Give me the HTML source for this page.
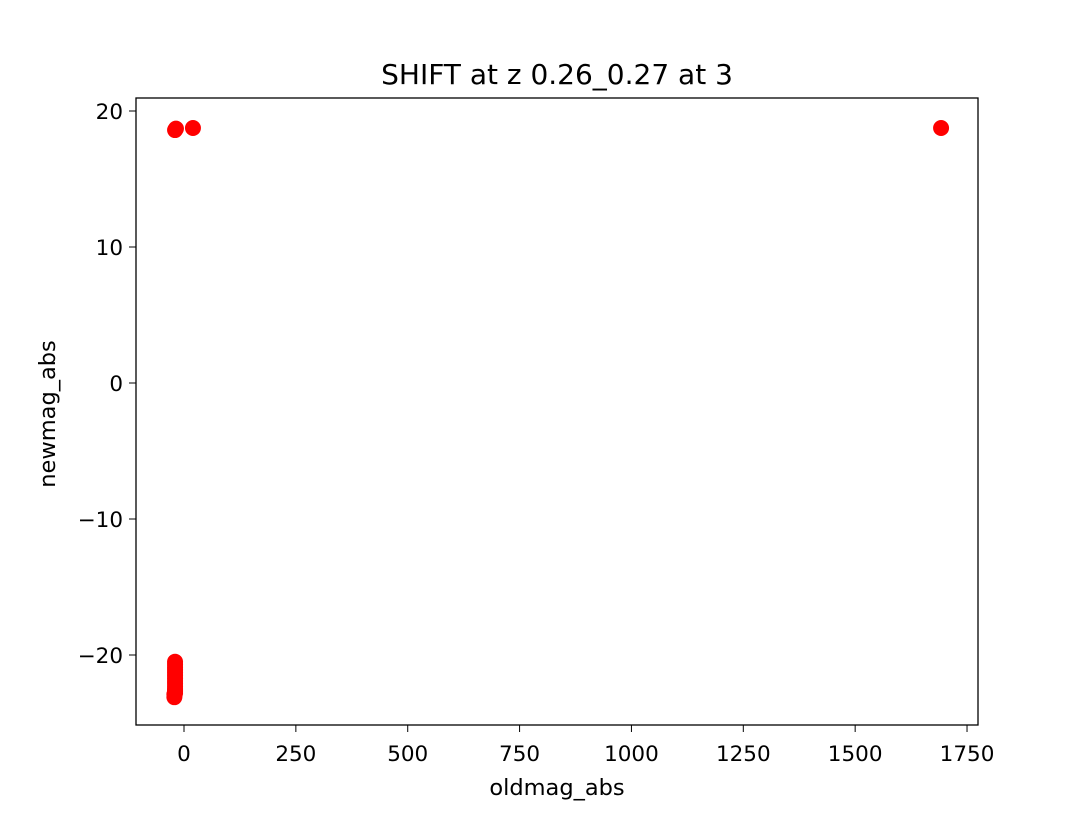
<!DOCTYPE html>
<html><head><meta charset="utf-8"><style>
body{margin:0;background:#fff}
svg text{font-family:"DejaVu Sans","Liberation Sans",sans-serif;fill:#000}
</style></head><body>
<svg id="chart" width="1088" height="816">
<rect width="1088" height="816" fill="#fff"/>
<text x="557" y="84" font-size="28" text-anchor="middle">SHIFT at z 0.26_0.27 at 3</text>
<g id="marks"></g>
<rect x="136" y="98" width="842" height="627" fill="none" stroke="#000" stroke-width="1.3"/>
<g id="xt"></g>
<g id="yt"></g>
<text x="557" y="795" font-size="22.5" text-anchor="middle">oldmag_abs</text>
<text x="55" y="414" font-size="22.5" text-anchor="middle" transform="rotate(-90 55 414)">newmag_abs</text>
</svg>
<script>
const xTicks=[0,250,500,750,1000,1250,1500,1750];
const yTicks=[-20,-10,0,10,20];
const xVals=[-18,-20,20,1692,-20,-20,-20,-20,-20,-20,-20,-20,-20,-20,-20,-20,-20,-20,-21,-21.5,-21.5];
const yVals=[18.7,18.6,18.75,18.75,-20.5,-20.7,-20.9,-21.1,-21.3,-21.5,-21.7,-21.9,-22.1,-22.3,-22.5,-22.6,-22.7,-22.8,-22.9,-23.1,-22.9];
const sx=v=>184+(v/250)*111.86;
const sy=v=>383-v*13.6;
const NS="http://www.w3.org/2000/svg";
const m=document.getElementById('marks');
for(let i=0;i<xVals.length;i++){
 const c=document.createElementNS(NS,'circle');
 c.setAttribute('cx',sx(xVals[i]));c.setAttribute('cy',sy(yVals[i]));c.setAttribute('r',8);c.setAttribute('fill','#ff0000');
 
 
 m.appendChild(c);
}
const xt=document.getElementById('xt');
xTicks.forEach(t=>{
 const x=sx(t);
 const l=document.createElementNS(NS,'line');
 l.setAttribute('x1',x);l.setAttribute('x2',x);l.setAttribute('y1',725);l.setAttribute('y2',732);l.setAttribute('stroke','#000');
 
 
 xt.appendChild(l);
 const tx=document.createElementNS(NS,'text');
 tx.setAttribute('x',x);tx.setAttribute('y',761);tx.setAttribute('font-size','21.5');tx.setAttribute('text-anchor','middle');
 tx.textContent=String(t);
 
 
 xt.appendChild(tx);
});
const yt=document.getElementById('yt');
yTicks.forEach(t=>{
 const y=sy(t);
 const l=document.createElementNS(NS,'line');
 l.setAttribute('x1',129);l.setAttribute('x2',136);l.setAttribute('y1',y);l.setAttribute('y2',y);l.setAttribute('stroke','#000');
 
 
 yt.appendChild(l);
 const tx=document.createElementNS(NS,'text');
 tx.setAttribute('x',123);tx.setAttribute('y',y+8);tx.setAttribute('font-size','21.5');tx.setAttribute('text-anchor','end');
 tx.textContent=t<0?'\u2212'+Math.abs(t):String(t);
 
 
 yt.appendChild(tx);
});
</script>
</body></html>
